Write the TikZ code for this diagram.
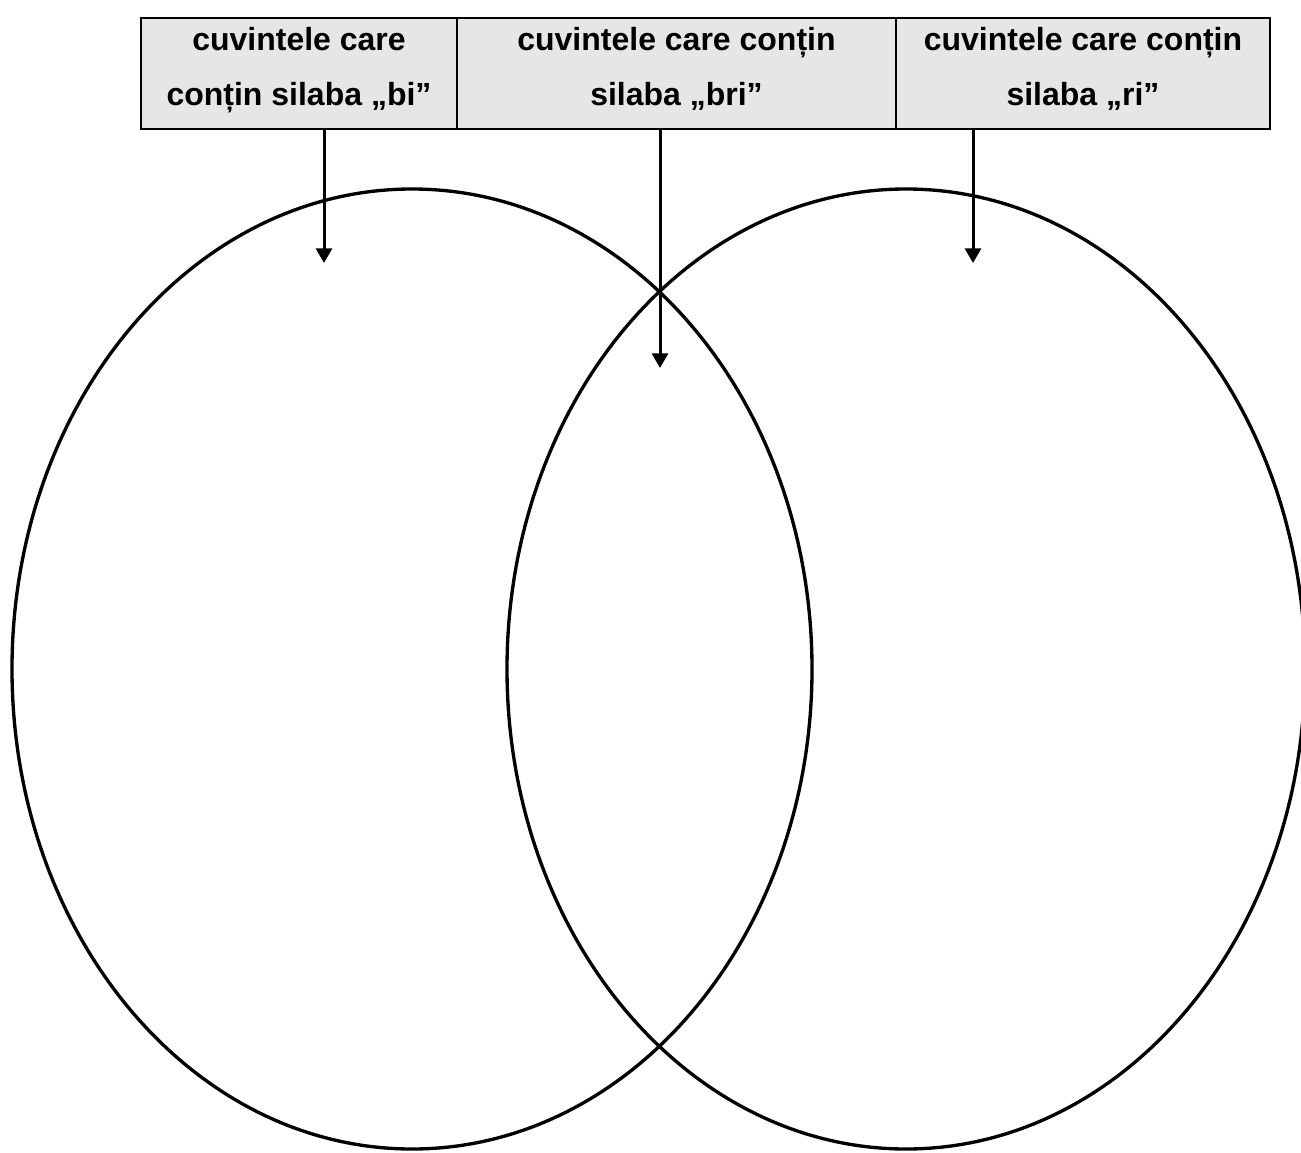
\documentclass[tikz,border=0pt]{standalone}
\usepackage{fontspec}
\setmainfont{Liberation Sans}
\usepackage{tikz}
\usepackage{xcolor}
\usetikzlibrary{arrows.meta,positioning}
\definecolor{ink}{HTML}{000000}
\definecolor{cellbg}{HTML}{E6E6E6}
\tikzset{
  headcell/.style={draw=ink,fill=cellbg,line width=2pt,outer sep=0pt,
                   minimum height=83.25pt,inner sep=0pt,anchor=north west,
                   text depth=11pt,
                   align=center,font=\fontsize{24}{41.25}\selectfont\bfseries},
  setline/.style={draw=ink,line width=2.5pt},
  pointarr/.style={-{Triangle[width=12pt,length=11pt]},line width=2.25pt,color=ink}
}

\begin{document}
\begin{tikzpicture}[x=0.75pt,y=-0.75pt]
      \useasboundingbox (0,0) rectangle (1301,1152);
      \clip (0,0) rectangle (1301,1152);

      % the two sets
      \draw[setline] (412,669) ellipse [x radius=400,y radius=480];
      \draw[setline] (906,669) ellipse [x radius=399,y radius=480];

      % header row
      \node[headcell,minimum width=237pt] (bi) at (141,18)
           {cuvintele care\\conțin silaba „bi”};
      \node[headcell,minimum width=329.25pt] (bri) at (bi.north east)
           {cuvintele care conțin\\silaba „bri”};
      \node[headcell,minimum width=280.5pt] (ri) at (bri.north east)
           {cuvintele care conțin\\silaba „ri”};

      % arrow tips
      \coordinate (tipbi) at (324,263);
      \coordinate (tipbri) at (660,368);
      \coordinate (tipri) at (973,263);

      \draw[pointarr] (bi.south -| tipbi) -- (tipbi);
      \draw[pointarr] (bri.south -| tipbri) -- (tipbri);
      \draw[pointarr] (ri.south -| tipri) -- (tipri);
    \end{tikzpicture}
\end{document}
